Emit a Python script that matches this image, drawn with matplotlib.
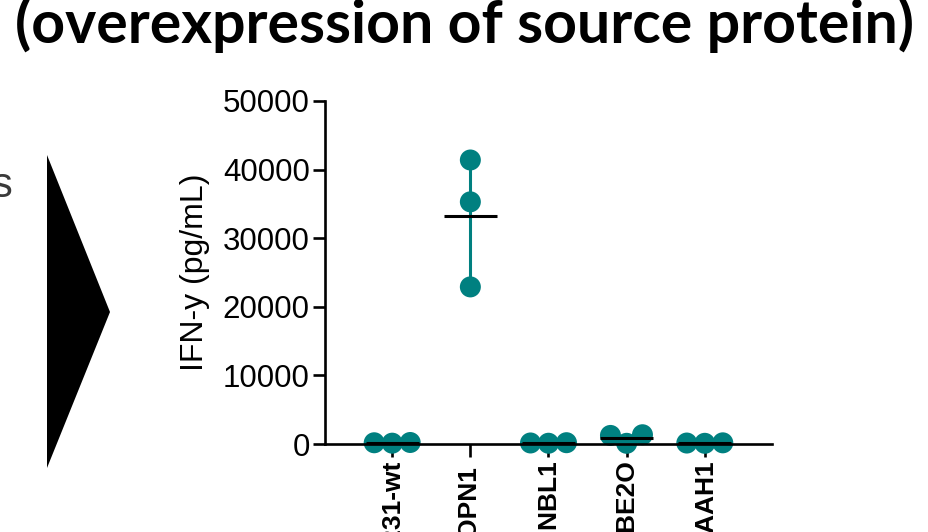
import matplotlib
matplotlib.use("Agg")
import matplotlib.pyplot as plt
from matplotlib.patches import Polygon
import numpy as np

# Cell lines tested and IFN-y release (pg/mL), three replicates each
cell_lines = ["MDA-MB-231-wt", "MDA-MB-231-OPN1 ", "MDA-MB-231-NBL1",
              "MDA-MB-231-BE2O", "MDA-MB-231-AAH1"]
rep_values = [
    [180, 120, 220],
    [41400, 35300, 22900],
    [150, 110, 190],
    [1350, 100, 1250],
    [140, 100, 170],
]
yticks = [0, 10000, 20000, 30000, 40000, 50000]

TEAL = "#008080"
W, H, DPI = 929, 532, 100

fig = plt.figure(figsize=(W / DPI, H / DPI), dpi=DPI)
ax = fig.add_axes([325 / W, 1 - 444 / H, (772 - 325) / W, (444 - 101) / H])

XMIN, XMAX = -0.86, 4.86
ax.set_xlim(XMIN, XMAX)
ax.set_ylim(0, 50000)


def swarm_offsets(vals, step_px, px_per_unit_y, px_per_unit_x):
    """Simple beeswarm: place points (lowest first) at the smallest
    horizontal offset that keeps them step_px apart from points already
    placed."""
    order = np.argsort(vals)
    placed = []
    offs = np.zeros(len(vals))
    for i in order:
        y = vals[i] * px_per_unit_y
        cands = [0.0]
        for (py, px) in placed:
            dy = abs(y - py)
            if dy < step_px:
                dx = np.sqrt(step_px ** 2 - dy ** 2)
                cands += [px - dx, px + dx]
        cands = sorted(cands, key=lambda c: (abs(c), c))
        for c in cands:
            if all((c - px) ** 2 + (y - py) ** 2 >= step_px ** 2 - 1e-6
                   for (py, px) in placed):
                offs[i] = c
                placed.append((y, c))
                break
    return offs / px_per_unit_x


ppx = (772 - 325) / (XMAX - XMIN)
ppy = (444 - 101) / 50000
dot_diam = 21
swarm_step = 18

for i, vals in enumerate(rep_values):
    vals = np.array(vals, dtype=float)
    mean = vals.mean()
    sd = vals.std(ddof=1)
    ax.errorbar(i, mean, yerr=sd, fmt="none", ecolor=TEAL, elinewidth=2.2,
                capsize=0, zorder=2)
    offs = swarm_offsets(vals, swarm_step, ppy, ppx)
    ax.scatter(i + offs, vals, s=(dot_diam * 72 / DPI) ** 2, color=TEAL,
               edgecolors="none", zorder=3, clip_on=False)
    ax.plot([i - 0.34, i + 0.34], [mean, mean], color="black", lw=2.2,
            zorder=4, solid_capstyle="butt", clip_on=False)

for side in ["top", "right"]:
    ax.spines[side].set_visible(False)
for side in ["left", "bottom"]:
    ax.spines[side].set_linewidth(1.9)
    ax.spines[side].set_zorder(3.5)

ax.set_yticks(yticks)
ax.set_yticklabels([str(t) for t in yticks], fontfamily="Liberation Sans",
                   fontsize=22.5)
ax.tick_params(axis="y", length=9, width=1.9, pad=2)
ax.set_xticks(range(len(cell_lines)))
ax.set_xticklabels(cell_lines, rotation=90, fontfamily="Liberation Sans",
                   fontsize=19, fontweight="bold", va="top", ha="center")
ax.tick_params(axis="x", length=9, width=1.9, pad=2)

ax.set_ylabel("IFN-y (pg/mL)", fontfamily="Liberation Sans", fontsize=23,
              labelpad=9)

# Section heading
fig.text(15 / W, 1 - 43 / H, "(overexpression of source protein)",
         fontfamily="Lato", fontweight="bold", fontsize=42.5,
         ha="left", va="baseline")

# Tail of a neighbouring caption
fig.text(13 / W, 1 - 197 / H, "s", fontfamily="Liberation Sans",
         fontsize=30, color="#3a3a3a", ha="right", va="baseline")

# Arrow head pointing to the chart
tri = Polygon([(47 / W, 1 - 155 / H), (47 / W, 1 - 468 / H),
               (110 / W, 1 - 312 / H)], closed=True,
              transform=fig.transFigure, facecolor="black", edgecolor="none")
fig.patches.append(tri)

fig.savefig("out.png", dpi=DPI)
